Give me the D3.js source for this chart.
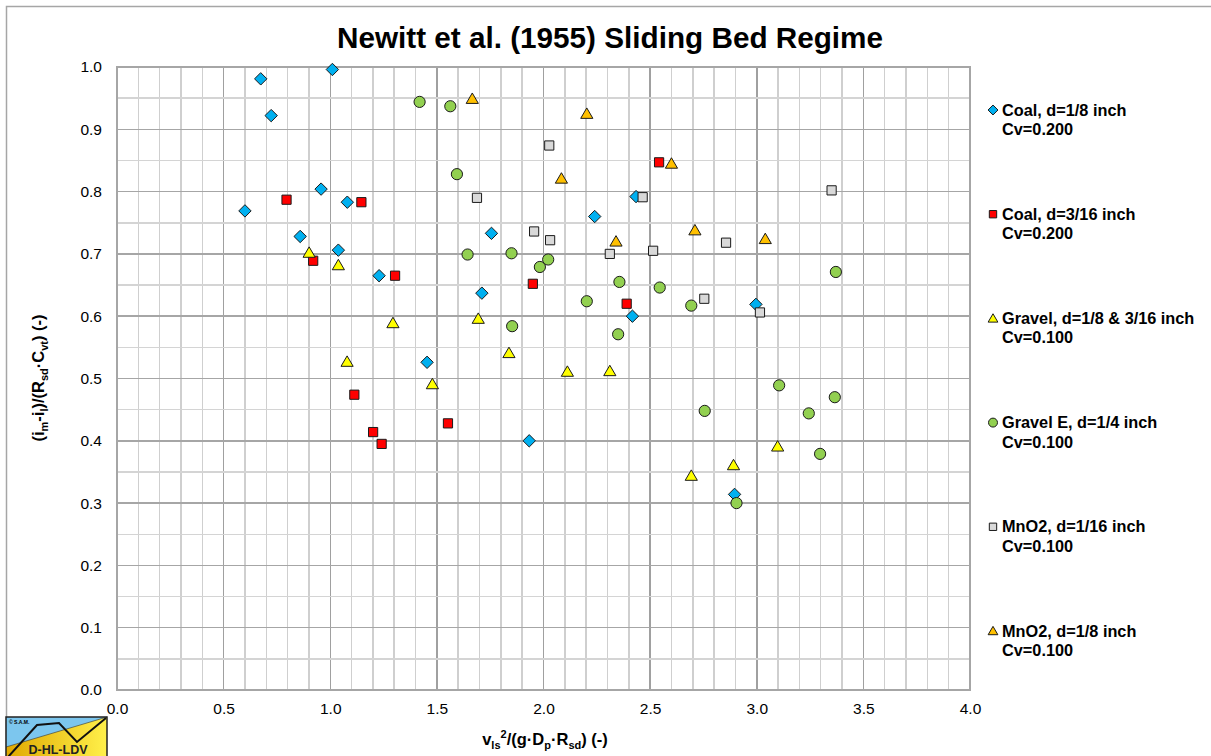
<!DOCTYPE html>
<html>
<head>
<meta charset="utf-8">
<script src="https://cdn.jsdelivr.net/npm/d3@7"></script>
<style>
  html, body { margin: 0; padding: 0; background: #fff; }
  svg { display: block; font-family: Arial, "Liberation Sans", sans-serif; }
</style>
</head>
<body>
<svg id="chart" width="1211" height="756"></svg>
<script>
"use strict";

// data: [x, y] pairs per series
var coal18 = [[0.600,0.769],[0.674,0.981],[0.723,0.922],[0.859,0.728],[0.957,0.804],[1.010,0.996],
  [1.038,0.706],[1.080,0.783],[1.229,0.665],[1.454,0.526],[1.711,0.637],[1.756,0.733],[1.933,0.400],
  [2.240,0.760],[2.417,0.600],[2.434,0.792],[2.896,0.314],[2.996,0.619]];
var coal316 = [[0.795,0.787],[0.920,0.689],[1.113,0.474],[1.146,0.783],[1.201,0.414],[1.241,0.395],
  [1.304,0.665],[1.552,0.428],[1.950,0.652],[2.390,0.620],[2.542,0.847]];
var gravel = [[0.901,0.702],[1.038,0.682],[1.079,0.527],[1.294,0.589],[1.479,0.491],[1.694,0.596],
  [1.838,0.541],[2.112,0.511],[2.311,0.512],[2.693,0.344],[2.891,0.361],[3.098,0.391]];
var gravelE = [[1.419,0.944],[1.563,0.937],[1.594,0.828],[1.644,0.699],[1.850,0.701],[1.853,0.584],
  [1.983,0.679],[2.022,0.691],[2.203,0.624],[2.350,0.571],[2.356,0.655],[2.545,0.646],[2.693,0.617],
  [2.756,0.448],[2.905,0.300],[3.105,0.489],[3.244,0.444],[3.297,0.379],[3.366,0.470],[3.371,0.671]];
var mno2_116 = [[1.688,0.790],[1.956,0.736],[2.027,0.874],[2.031,0.722],[2.311,0.700],[2.465,0.791],
  [2.514,0.705],[2.754,0.628],[2.856,0.718],[3.015,0.606],[3.351,0.802]];
var mno2_18 = [[1.666,0.949],[2.084,0.821],[2.203,0.925],[2.340,0.720],[2.600,0.845],[2.710,0.738],[3.040,0.724]];

var seriesNames = [["Coal, d=1/8 inch", "Cv=0.200"], ["Coal, d=3/16 inch", "Cv=0.200"],
  ["Gravel, d=1/8 & 3/16 inch", "Cv=0.100"], ["Gravel E, d=1/4 inch", "Cv=0.100"],
  ["MnO2, d=1/16 inch", "Cv=0.100"], ["MnO2, d=1/8 inch", "Cv=0.100"]];
var seriesColors = ["#00b0f0", "#ff0000", "#ffff00", "#92d050", "#d9d9d9", "#ffc000"];
var seriesShapes = ["diamond", "square", "triangle", "circle", "square", "triangle"];
var seriesData = [coal18, coal316, gravel, gravelE, mno2_116, mno2_18];

var xTicks = [0, 0.5, 1, 1.5, 2, 2.5, 3, 3.5, 4];
var yTicks = [0, 0.1, 0.2, 0.3, 0.4, 0.5, 0.6, 0.7, 0.8, 0.9, 1.0];

var svg = d3.select("#chart");
var x = d3.scaleLinear().domain([0, 4]).range([117, 970]);
var y = d3.scaleLinear().domain([0, 1]).range([690, 67]);

// outer frame
svg.append("rect").attr("x", 6.5).attr("y", 6.5).attr("width", 1300).attr("height", 800)
  .attr("fill", "none").attr("stroke", "#a6a6a6").attr("stroke-width", 1.5);

// grid
var grid = svg.append("g").attr("shape-rendering", "crispEdges");
d3.range(0, 41).forEach(function (i) {
  var v = i / 10;
  grid.append("line").attr("x1", x(v)).attr("x2", x(v)).attr("y1", y(0)).attr("y2", y(1))
    .attr("stroke", i % 5 === 0 ? "#a0a0a0" : "#cfcfcf").attr("stroke-width", 1.5);
});
d3.range(0, 21).forEach(function (i) {
  var v = i / 20;
  grid.append("line").attr("x1", x(0)).attr("x2", x(4)).attr("y1", y(v)).attr("y2", y(v))
    .attr("stroke", i % 2 === 0 ? "#a6a6a6" : "#d4d4d4").attr("stroke-width", 1.5);
});
grid.append("rect").attr("x", x(0)).attr("y", y(1)).attr("width", x(4) - x(0)).attr("height", y(0) - y(1))
  .attr("fill", "none").attr("stroke", "#a6a6a6").attr("stroke-width", 1.5);

// axes (labels only, Excel style)
var xAxis = svg.append("g").attr("transform", "translate(0," + y(0) + ")")
  .call(d3.axisBottom(x).tickValues(xTicks).tickSize(0).tickPadding(13).tickFormat(d3.format(".1f")));
var yAxis = svg.append("g").attr("transform", "translate(" + x(0) + ",0)")
  .call(d3.axisLeft(y).tickValues(yTicks).tickSize(0).tickPadding(15).tickFormat(d3.format(".1f")));
[xAxis, yAxis].forEach(function (a) {
  a.select(".domain").remove();
  a.selectAll("text").attr("font-size", "15.5px").attr("fill", "#000").attr("font-family", "Arial, 'Liberation Sans', sans-serif");
});

// markers
function markerPath(shape, s) {
  if (shape === "diamond") return "M0," + (-s) + "L" + s + ",0L0," + s + "L" + (-s) + ",0Z";
  if (shape === "square") return "M" + (-s) + "," + (-s) + "H" + s + "V" + s + "H" + (-s) + "Z";
  if (shape === "triangle") return "M0," + (-s) + "L" + (s * 1.05) + "," + (s * 0.8) + "L" + (-s * 1.05) + "," + (s * 0.8) + "Z";
  return d3.arc()({ innerRadius: 0, outerRadius: s, startAngle: 0, endAngle: 2 * Math.PI });
}
var markerSize = { diamond: 6.2, square: 4.6, triangle: 5.8, circle: 5.6 };

seriesData.forEach(function (pts, si) {
  svg.append("g").selectAll("path").data(pts).enter().append("path")
    .attr("transform", function (d) { return "translate(" + x(d[0]) + "," + y(d[1]) + ")"; })
    .attr("d", markerPath(seriesShapes[si], markerSize[seriesShapes[si]]))
    .attr("fill", seriesColors[si]).attr("stroke", "#1a1a1a").attr("stroke-width", 1);
});

// title
svg.append("text").attr("x", 610).attr("y", 48).attr("text-anchor", "middle")
  .attr("font-size", "29.7px").attr("font-weight", "bold").text("Newitt et al. (1955) Sliding Bed Regime");

// axis titles
var xt = svg.append("text").attr("x", 545).attr("y", 745).attr("text-anchor", "middle")
  .attr("font-size", "16.5px").attr("font-weight", "bold");
xt.append("tspan").text("v");
xt.append("tspan").attr("font-size", "11px").attr("dy", 4).text("ls");
xt.append("tspan").attr("font-size", "11px").attr("dy", -11).text("2");
xt.append("tspan").attr("dy", 7).text("/(g·D");
xt.append("tspan").attr("font-size", "11px").attr("dy", 4).text("p");
xt.append("tspan").attr("dy", -4).text("·R");
xt.append("tspan").attr("font-size", "11px").attr("dy", 4).text("sd");
xt.append("tspan").attr("dy", -4).text(") (-)");

var yt = svg.append("text").attr("transform", "translate(44,378) rotate(-90)").attr("text-anchor", "middle")
  .attr("font-size", "16.5px").attr("font-weight", "bold");
yt.append("tspan").text("(i");
yt.append("tspan").attr("font-size", "11px").attr("dy", 4).text("m");
yt.append("tspan").attr("dy", -4).text("-i");
yt.append("tspan").attr("font-size", "11px").attr("dy", 4).text("l");
yt.append("tspan").attr("dy", -4).text(")/(R");
yt.append("tspan").attr("font-size", "11px").attr("dy", 4).text("sd");
yt.append("tspan").attr("dy", -4).text("·C");
yt.append("tspan").attr("font-size", "11px").attr("dy", 4).text("vt");
yt.append("tspan").attr("dy", -4).text(") (-)");

// legend
var legend = svg.append("g");
seriesNames.forEach(function (name, i) {
  var cy = 110 + i * 104.2;
  legend.append("path").attr("transform", "translate(993," + cy + ")")
    .attr("d", markerPath(seriesShapes[i], markerSize[seriesShapes[i]] * 0.8))
    .attr("fill", seriesColors[i]).attr("stroke", "#1a1a1a").attr("stroke-width", 1);
  var t = legend.append("text").attr("x", 1002).attr("y", cy + 5.5).attr("font-size", "16.3px").attr("font-weight", "bold");
  t.append("tspan").text(name[0]);
  t.append("tspan").attr("x", 1002).attr("dy", 19.5).text(name[1]);
});

// logo
var logo = svg.append("g").attr("transform", "translate(6,717)");
var defs = svg.append("defs");
var grad = defs.append("linearGradient").attr("id", "logoGrad").attr("x1", "0").attr("x2", "1").attr("y1", "0").attr("y2", "0");
grad.append("stop").attr("offset", "0").attr("stop-color", "#e0a800");
grad.append("stop").attr("offset", "1").attr("stop-color", "#fff04a");
logo.append("rect").attr("width", 101).attr("height", 45).attr("fill", "url(#logoGrad)");
logo.append("path").attr("d", "M0,0H101L0,30Z").attr("fill", "#7cc6ee");
logo.append("path").attr("d", "M0,30L101,0").attr("stroke", "#333").attr("stroke-width", 0.6).attr("fill", "none");
logo.append("path").attr("d", "M2,40L31,8L53,6L71,25L100,1").attr("stroke", "#111").attr("stroke-width", 2).attr("fill", "none");
logo.append("rect").attr("width", 101).attr("height", 45).attr("fill", "none").attr("stroke", "#222").attr("stroke-width", 1.5);
logo.append("text").attr("x", 3).attr("y", 7).attr("font-size", "5px").attr("font-weight", "bold").text("© S.A.M.");
logo.append("text").attr("x", 52).attr("y", 37).attr("text-anchor", "middle").attr("font-size", "12.5px")
  .attr("font-weight", "bold").attr("fill", "#222").text("D-HL-LDV");
</script>
</body>
</html>
